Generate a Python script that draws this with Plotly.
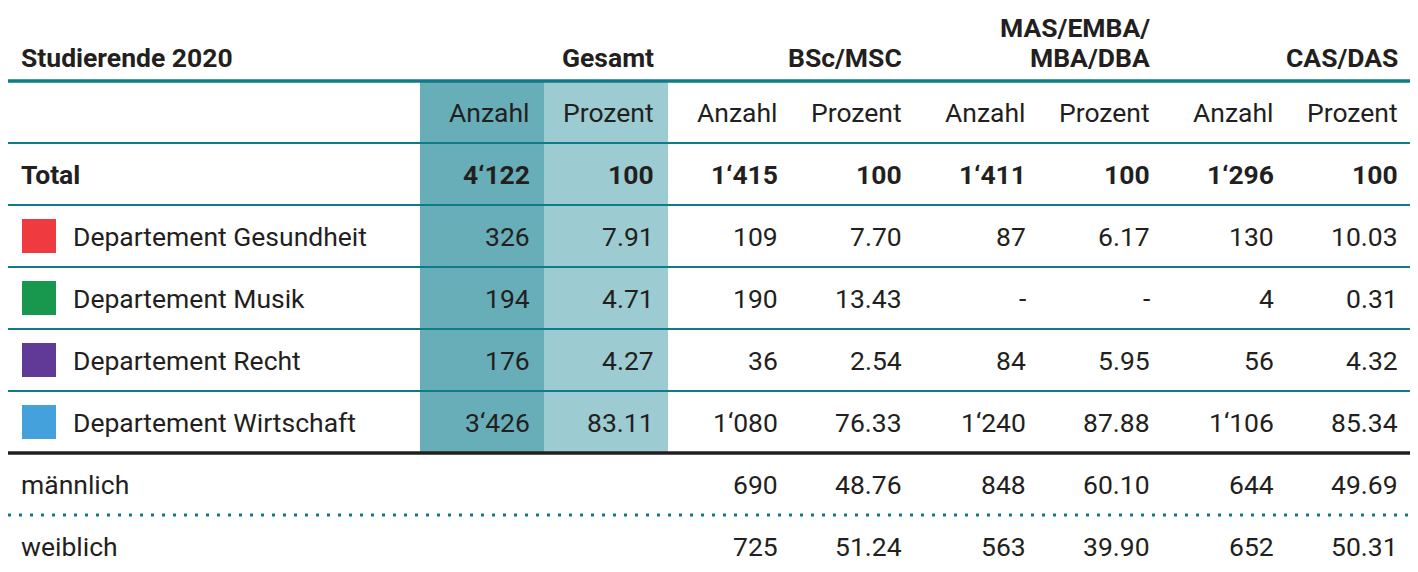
import plotly.graph_objects as go

# ---------------- data ----------------
title = "Studierende 2020"
group_labels = [["Gesamt"], ["BSc/MSC"], ["MAS/EMBA/", "MBA/DBA"], ["CAS/DAS"]]
sub_labels = ["Anzahl", "Prozent"]

row_labels = ["Total", "Departement Gesundheit", "Departement Musik",
              "Departement Recht", "Departement Wirtschaft", "männlich", "weiblich"]
row_colors = [None, "#ef3a3f", "#18984f", "#613a97", "#44a1db", None, None]
row_bold = [True, False, False, False, False, False, False]

# per row: [Gesamt, BSc/MSC, MAS/EMBA/MBA/DBA, CAS/DAS]
anzahl = [
    [4122, 1415, 1411, 1296],
    [326, 109, 87, 130],
    [194, 190, None, 4],
    [176, 36, 84, 56],
    [3426, 1080, 1240, 1106],
    [None, 690, 848, 644],
    [None, 725, 563, 652],
]
prozent = [
    [100, 100, 100, 100],
    [7.91, 7.70, 6.17, 10.03],
    [4.71, 13.43, None, 0.31],
    [4.27, 2.54, 5.95, 4.32],
    [83.11, 76.33, 87.88, 85.34],
    [None, 48.76, 60.10, 49.69],
    [None, 51.24, 39.90, 50.31],
]
has_gesamt = [True, True, True, True, True, False, False]

# ---------------- style / layout ----------------
W, H = 1418, 572
OFF = 8  # default page body margin
FONT = "Roboto"
TXT = "#231f20"
TEAL = "#0e7b86"
SHADE = ["#67aeb8", "#9ccbd1"]
FS = 26.5
X0, X1 = 7, 1412
LABEL_W = 413
COL_W = 124
PAD = 12
TOP_LINE = 81
HDR_ROW_H = 62
ROW_H = 62


def fmt_int(v):
    if v is None:
        return "-"
    return f"{v:,}".replace(",", "\u2018")


def fmt_pct(v):
    if v is None:
        return "-"
    if v == 100:
        return "100"
    return f"{v:.2f}"


col_left = [X0 + LABEL_W + COL_W * i for i in range(8)]
col_right = [c + COL_W for c in col_left]

shapes = []
annotations = []

sub_top = TOP_LINE
row_tops = [sub_top + HDR_ROW_H + ROW_H * i for i in range(len(row_labels))]
row_centers = [t + ROW_H / 2 for t in row_tops]
dept_bottom = row_tops[5]

# shaded Gesamt columns
for k in range(2):
    shapes.append(dict(type="rect", xref="x", yref="y", x0=col_left[k], x1=col_right[k],
                       y0=sub_top, y1=dept_bottom, fillcolor=SHADE[k], line=dict(width=0),
                       layer="below"))

# lines
shapes.append(dict(type="line", x0=X0, x1=X1, y0=TOP_LINE, y1=TOP_LINE,
                   line=dict(color=TEAL, width=3.5)))
for i in range(5):
    y = row_tops[i]
    shapes.append(dict(type="line", x0=X0, x1=X1, y0=y, y1=y, line=dict(color=TEAL, width=2)))
shapes.append(dict(type="line", x0=X0, x1=X1, y0=dept_bottom, y1=dept_bottom,
                   line=dict(color=TXT, width=3.5)))
ydot = row_tops[6]
shapes.append(dict(type="line", x0=X0 + 1, x1=X1, y0=ydot, y1=ydot,
                   line=dict(color=TEAL, width=3, dash="3px,8px")))

# header
hdr_y = TOP_LINE - 24
annotations.append(dict(x=X0 + 12, y=hdr_y, text=f"<b>{title}</b>", xanchor="left",
                        yanchor="middle", showarrow=False,
                        font=dict(family=FONT, size=FS, color=TXT)))
for g, lines in enumerate(group_labels):
    xr = col_right[2 * g + 1] - PAD
    for j, line in enumerate(reversed(lines)):
        annotations.append(dict(x=xr, y=hdr_y - 30 * j, text=f"<b>{line}</b>", xanchor="right",
                                yanchor="middle", showarrow=False,
                                font=dict(family=FONT, size=FS, color=TXT)))

# sub header
sub_c = sub_top + HDR_ROW_H / 2
for c in range(8):
    annotations.append(dict(x=col_right[c] - PAD, y=sub_c, text=sub_labels[c % 2],
                            xanchor="right", yanchor="middle", showarrow=False,
                            font=dict(family=FONT, size=FS, color=TXT)))

# body rows
for r, lab in enumerate(row_labels):
    yc = row_centers[r]
    bold = row_bold[r]
    wrap = (lambda s: f"<b>{s}</b>") if bold else (lambda s: s)
    if row_colors[r]:
        shapes.append(dict(type="rect", x0=X0 + 15, x1=X0 + 49, y0=yc - 17, y1=yc + 17,
                           fillcolor=row_colors[r], line=dict(width=0)))
        lx = X0 + 64
    else:
        lx = X0 + 12
    annotations.append(dict(x=lx, y=yc, text=wrap(lab), xanchor="left", yanchor="middle",
                            showarrow=False, font=dict(family=FONT, size=FS, color=TXT)))
    for g in range(4):
        if g == 0 and not has_gesamt[r]:
            continue
        vals = [fmt_int(anzahl[r][g]), fmt_pct(prozent[r][g])]
        for k in range(2):
            annotations.append(dict(x=col_right[2 * g + k] - PAD, y=yc, text=wrap(vals[k]),
                                    xanchor="right", yanchor="middle", showarrow=False,
                                    font=dict(family=FONT, size=FS, color=TXT)))

fig = go.Figure()
fig.update_layout(
    width=W, height=H, margin=dict(l=0, r=0, t=0, b=0),
    paper_bgcolor="white", plot_bgcolor="white",
    xaxis=dict(range=[OFF, W + OFF], visible=False, fixedrange=True),
    yaxis=dict(range=[H + OFF, OFF], visible=False, fixedrange=True),
    shapes=shapes, annotations=annotations, showlegend=False,
)
fig.write_html("out.html", config={"displayModeBar": False})
